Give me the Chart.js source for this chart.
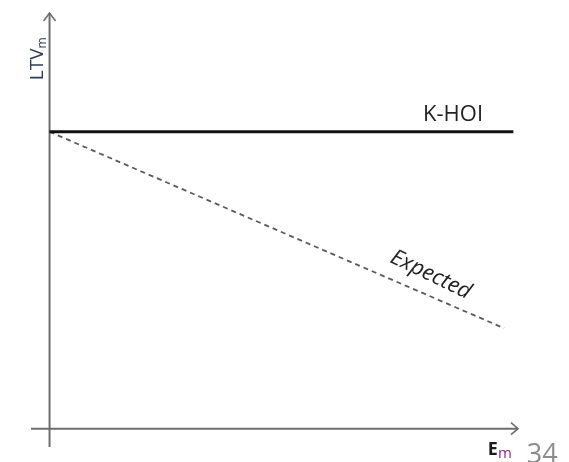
<!DOCTYPE html>
<html>
<head>
<meta charset="utf-8">
<script src="https://cdn.jsdelivr.net/npm/chart.js@4/dist/chart.umd.min.js"></script>
<style>
  html, body { margin: 0; padding: 0; background: #fff; }
  #wrap { width: 569px; height: 462px; }
</style>
</head>
<body>
<div id="wrap"><canvas id="sketch"></canvas></div>
<script>
// values (arbitrary units, origin = where the axes cross)
const emValues = [0, 10];
const khoiValues = [6.5, 6.5];
const expectedX = [0, 9.8];
const expectedValues = [6.5, 2.2];
const axisRangeX = [-0.4, 10.1];
const axisRangeY = [-0.4, 9.1];

const toPoints = (xs, ys) => xs.map((x, i) => ({ x: x, y: ys[i] }));

// axes with open arrow heads, drawn from the scales
const axesPlugin = {
    id: "axes",
    beforeDatasetsDraw(chart) {
        const ctx = chart.ctx;
        const xs = chart.scales.x, ys = chart.scales.y;
        const x0 = xs.getPixelForValue(0), y0 = ys.getPixelForValue(0);
        const left = xs.getPixelForValue(axisRangeX[0]);
        const right = xs.getPixelForValue(axisRangeX[1]);
        const top = ys.getPixelForValue(axisRangeY[1]);
        const bottom = ys.getPixelForValue(axisRangeY[0]);
        ctx.save();
        ctx.strokeStyle = "#6e6e6e";
        ctx.lineWidth = 2;
        ctx.beginPath();
        ctx.moveTo(left, y0); ctx.lineTo(right, y0);
        ctx.moveTo(x0, bottom); ctx.lineTo(x0, top);
        ctx.stroke();
        ctx.lineWidth = 1.6;
        ctx.beginPath();
        ctx.moveTo(right - 7, y0 - 6); ctx.lineTo(right, y0); ctx.lineTo(right - 7, y0 + 6);
        ctx.moveTo(x0 - 6, top + 8); ctx.lineTo(x0, top); ctx.lineTo(x0 + 6, top + 8);
        ctx.stroke();
        ctx.restore();
    },
    afterDatasetsDraw(chart) {
        const ctx = chart.ctx;
        const xs = chart.scales.x, ys = chart.scales.y;
        const px = v => xs.getPixelForValue(v), py = v => ys.getPixelForValue(v);
        ctx.save();
        ctx.textBaseline = "alphabetic";

        // LTV_m, rotated
        ctx.save();
        ctx.translate(px(0) - 7, py(7.63));
        ctx.rotate(-Math.PI / 2);
        ctx.fillStyle = "#2e3b55";
        ctx.font = "19px 'Open Sans'";
        ctx.textAlign = "left";
        ctx.fillText("LTV", 0, 0);
        const w = ctx.measureText("LTV").width;
        ctx.font = "12px 'Open Sans'";
        ctx.fillText("m", w, 3);
        ctx.restore();

        // K-HOI
        ctx.fillStyle = "#222";
        ctx.font = "22px 'Open Sans'";
        ctx.textAlign = "center";
        ctx.fillText("K-HOI", px(8.7), py(6.5) - 11);

        // Expected, along the dashed line
        const ang = Math.atan2(py(expectedValues[1]) - py(expectedValues[0]),
                               px(expectedX[1]) - px(expectedX[0]));
        ctx.save();
        ctx.translate(px(8.22), py(3.37));
        ctx.rotate(ang + 0.04);
        ctx.font = "italic 22px 'Open Sans'";
        ctx.fillStyle = "#222";
        ctx.textAlign = "center";
        ctx.textBaseline = "middle";
        ctx.fillText("Expected", 0, 0);
        ctx.restore();

        // E_m
        ctx.textAlign = "left";
        ctx.fillStyle = "#1a1a1a";
        ctx.font = "bold 18px 'Open Sans'";
        ctx.fillText("E", px(9.45), py(0) + 26);
        const ew = ctx.measureText("E").width;
        ctx.fillStyle = "#8a2c8c";
        ctx.font = "15px 'Open Sans'";
        ctx.fillText("m", px(9.45) + ew, py(0) + 29);

        // page number
        ctx.fillStyle = "#8c8c8c";
        ctx.font = "27px 'Open Sans'";
        ctx.fillText("34", px(10.29), py(0) + 34);
        ctx.restore();
    }
};

new Chart(document.getElementById("sketch"), {
    type: "scatter",
    data: {
        datasets: [
            {
                label: "K-HOI",
                data: toPoints(emValues, khoiValues),
                showLine: true,
                borderColor: "#111",
                borderWidth: 3,
                pointRadius: 0,
                borderCapStyle: "butt"
            },
            {
                label: "Expected",
                data: toPoints(expectedX, expectedValues),
                showLine: true,
                borderColor: "#5a5a5a",
                borderWidth: 1.8,
                borderDash: [5, 4],
                pointRadius: 0
            }
        ]
    },
    options: {
        responsive: true,
        maintainAspectRatio: false,
        animation: false,
        layout: { padding: { left: 31, right: 51, top: 13, bottom: 15 } },
        plugins: { legend: { display: false }, tooltip: { enabled: false } },
        scales: {
            x: { type: "linear", min: axisRangeX[0], max: axisRangeX[1], display: false },
            y: { type: "linear", min: axisRangeY[0], max: axisRangeY[1], display: false }
        }
    },
    plugins: [axesPlugin]
});
</script>
</body>
</html>
